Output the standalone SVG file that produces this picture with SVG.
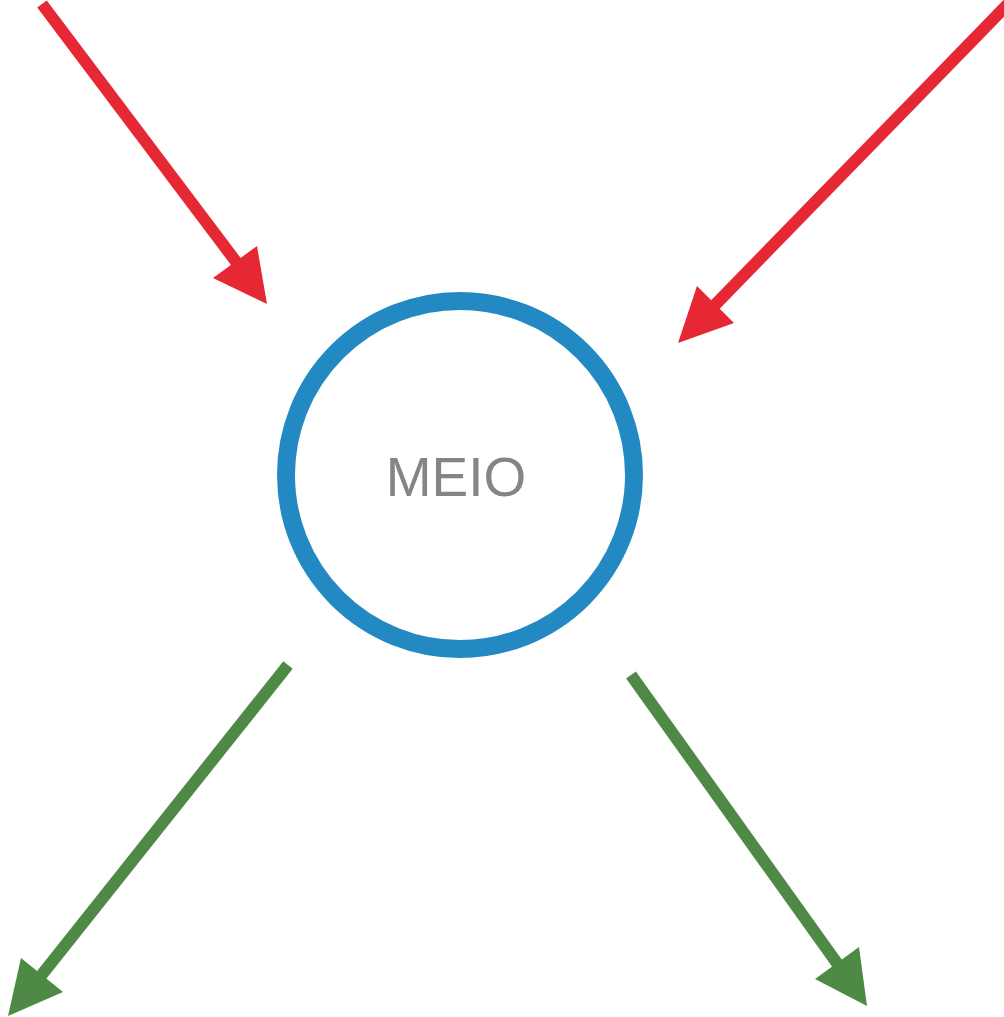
<svg xmlns="http://www.w3.org/2000/svg" width="1004" height="1017" viewBox="0 0 1004 1017">
<style>
.red{stroke:#e52833;stroke-width:12;fill:none}
.redh{fill:#e52833}
.grn{stroke:#4e8a45;stroke-width:12;fill:none}
.grnh{fill:#4e8a45}
.lbl{font-family:"Liberation Sans",Arial,sans-serif;font-size:55px;fill:#838685;text-anchor:middle}
</style>
<rect width="1004" height="1017" fill="#ffffff"/>
<g id="connectors">
<line class="red" x1="42" y1="4" x2="240" y2="267"/>
<polygon class="redh" points="267,304 213,278 257,246"/>
<line class="red" x1="1008" y1="4" x2="712" y2="308"/>
<polygon class="redh" points="678,343 697,286 734,323"/>
<line class="grn" x1="288" y1="665" x2="40" y2="977"/>
<polygon class="grnh" points="8,1016 21,958 63,992"/>
<line class="grn" x1="631" y1="675" x2="839" y2="966"/>
<polygon class="grnh" points="867,1006 815,979 859,947"/>
</g>
<g id="meio">
<circle cx="460" cy="475" r="174" fill="none" stroke="#2389c2" stroke-width="18"/>
<text class="lbl" x="456" y="496">MEIO</text>
</g>
</svg>
